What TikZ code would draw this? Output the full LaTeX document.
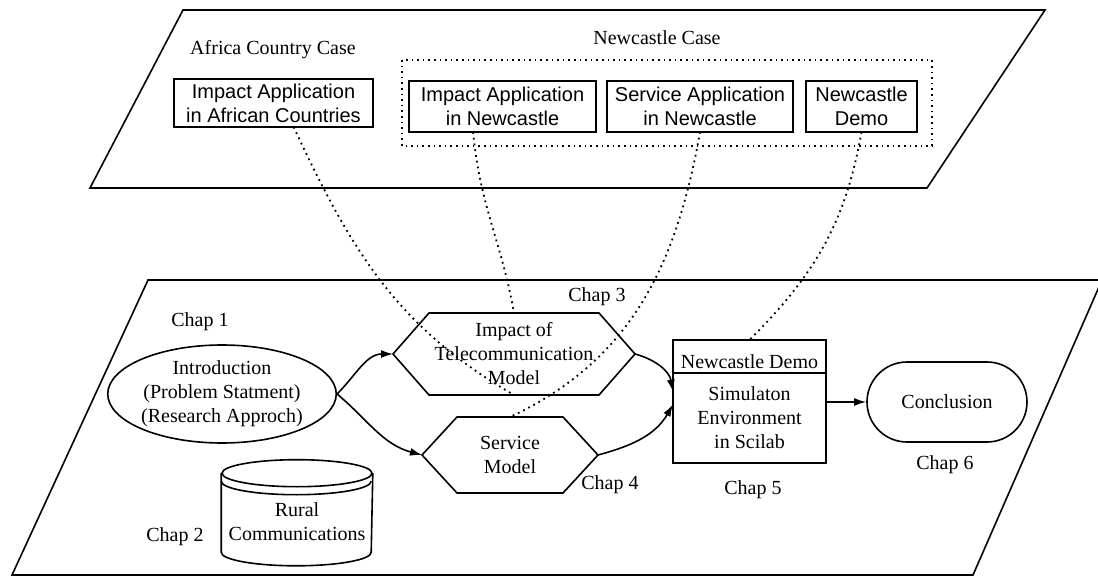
\documentclass[tikz,border=0pt]{standalone}
\usepackage{fontspec}
\setmainfont{Liberation Serif}
\setsansfont{Liberation Sans}
\usetikzlibrary{shapes.geometric,shapes.misc,arrows.meta}

\begin{document}
\begin{tikzpicture}[x=0.5pt, y=0.5pt, line width=0.8pt, >={Latex[length=6pt,width=4pt]},
  appbox/.style={draw, font=\sffamily, align=center, inner sep=0pt, outer sep=0pt},
  hexbox/.style={inner sep=0pt, outer sep=0pt, align=center},
  chap/.style={inner sep=0pt},
  link/.style={dotted, line width=0.9pt}]
\useasboundingbox (0,0) rectangle (1098,-577);
 \draw (183,-10) -- (1045,-10) -- (927,-188) -- (90,-188) -- cycle;
 \draw (148,-280) -- (1102,-280) -- (973,-575) -- (12,-575) -- cycle;
 \draw[dotted] (402,-60) rectangle (932,-146);

 \node[chap] (afcase) at (273,-50) {Africa Country Case};
 \node[chap] (nccase) at (657,-38) {Newcastle Case};
 \node[appbox, minimum width=99.5pt, minimum height=24pt] (africa) at (273.5,-103) {Impact Application\\in African Countries};
 \node[appbox, minimum width=93.5pt, minimum height=25.5pt] (impNew) at (502.5,-106.5) {Impact Application\\in Newcastle};
 \node[appbox, minimum width=93pt, minimum height=25.5pt] (serv) at (700,-106.5) {Service Application\\in Newcastle};
 \node[appbox, minimum width=55.5pt, minimum height=25.5pt] (nDemo) at (861.5,-106.5) {Newcastle\\Demo};

 \node[chap] (chap1) at (200,-322) {Chap 1};
 \node[chap] (chap2) at (175,-537) {Chap 2};
 \node[chap] (chap3) at (597,-297) {Chap 3};
 \node[chap] (chap4) at (610,-485) {Chap 4};
 \node[chap] (chap5) at (753,-490) {Chap 5};
 \node[chap] (chap6) at (945,-465) {Chap 6};

 \node[draw, ellipse, inner sep=0pt, minimum width=107.5pt, minimum height=49pt, align=center] (intro) at (222,-394) {Introduction\\(Problem Statment)\\(Research Approch)};
 \node[hexbox, minimum width=121pt, minimum height=41pt] (impact) at (514,-354) {Impact of\\Telecommunication\\Model};
 \node[hexbox, minimum width=88pt, minimum height=38pt] (service) at (510,-455) {Service\\Model};
 \foreach \h/\c in {impact/18pt,service/17.5pt}
  \draw (\h.west) -- ([xshift=\c]\h.north west) -- ([xshift=-\c]\h.north east) -- (\h.east) -- ([xshift=-\c]\h.south east) -- ([xshift=\c]\h.south west) -- cycle;

 \node[draw, inner sep=2pt, outer sep=0pt, minimum width=76.5pt, minimum height=16.5pt, text height=12pt, text depth=0pt] (demo) at (749.5,-356.5) {Newcastle Demo};
 \node[draw, inner sep=0pt, outer sep=0pt, minimum width=76.5pt, minimum height=45pt, align=center] (sim) at (749.5,-418) {Simulaton\\Environment\\in Scilab};
 \node[draw, rounded rectangle, inner sep=0pt, minimum width=80pt, minimum height=40pt] (concl) at (947,-402) {Conclusion};

 \node[inner sep=0pt, minimum width=75pt, minimum height=43pt, align=center] (rural) at (297,-522) {Rural\\Communications};
 \draw ([yshift=2.5pt]rural.north) ellipse [x radius=37.5pt, y radius=6.75pt];
 \draw ([yshift=-1.5pt]rural.north west) arc [start angle=180, end angle=360, x radius=37.5pt, y radius=6.75pt];
 \draw ([yshift=2.5pt]rural.north west) -- ([yshift=6.75pt]rural.south west) arc [start angle=180, end angle=360, x radius=37.5pt, y radius=6.75pt] -- ([yshift=2.5pt]rural.north east);

 \draw[->] (intro.east) to[out=45,in=180] (impact.west);
 \draw[->] (intro.east) to[out=-40,in=165] (service.west);
 \draw[->] (impact.east) to[out=-15,in=100] (sim.161);
 \draw[->] (service.east) to[out=15,in=-120] (sim.170);
 \draw[->] (concl.west -| sim.east) -- (concl.west);

 \draw[link] (africa.-50) to[out=-65,in=150] (impact.south);
 \draw[link] (impNew.-139) to[out=-85,in=100] (impact.north);
 \draw[link] (serv.south) to[out=-100,in=25] (service.north);
 \draw[link] (nDemo.south) to[out=-100,in=45] (demo.north);
\end{tikzpicture}
\end{document}
